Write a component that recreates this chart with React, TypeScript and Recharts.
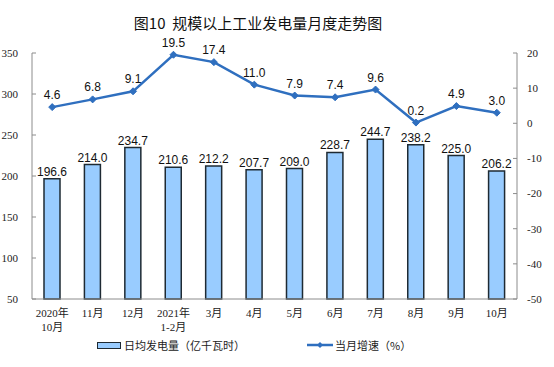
import React from "react"
import {
  ComposedChart,
  Bar,
  Line,
  XAxis,
  YAxis,
  LabelList,
} from "recharts"

const months = [
  "2020年\n10月",
  "11月",
  "12月",
  "2021年\n1-2月",
  "3月",
  "4月",
  "5月",
  "6月",
  "7月",
  "8月",
  "9月",
  "10月",
]
const dailyOutput = [196.6, 214.0, 234.7, 210.6, 212.2, 207.7, 209.0, 228.7, 244.7, 238.2, 225.0, 206.2]
const monthlyGrowth = [4.6, 6.8, 9.1, 19.5, 17.4, 11.0, 7.9, 7.4, 9.6, 0.2, 4.9, 3.0]
const leftTicks = [50, 100, 150, 200, 250, 300, 350]
const rightTicks = [-50, -40, -30, -20, -10, 0, 10, 20]
const bandTicks = [0, 1, 2, 3, 4, 5, 6, 7, 8, 9, 10, 11, 12]

const data = months.map((m, i) => ({
  name: m,
  output: dailyOutput[i],
  growth: monthlyGrowth[i],
}))

const AXIS = "#8c8c8c"
const SERIF = "'Liberation Serif', 'Noto Sans CJK SC', serif"
const CJK = "'Noto Sans CJK SC', sans-serif"
const LINE = "#2f6fbf"

function MonthTick(props: any) {
  const { x, y, payload } = props
  const lines = String(payload.value).split("\n")
  return (
    <text x={x} y={y} textAnchor="middle" fontSize={11} fill="#222" fontFamily={SERIF}>
      {lines.map((l, i) => (
        <tspan key={i} x={x} dy={i === 0 ? 10 : 14}>
          {l}
        </tspan>
      ))}
    </text>
  )
}

function Diamond(props: any) {
  const { cx, cy } = props
  if (cx == null || cy == null) return null
  const r = 3.5
  return (
    <path
      d={`M${cx},${cy - r} L${cx + r},${cy} L${cx},${cy + r} L${cx - r},${cy} Z`}
      fill={LINE}
      stroke={LINE}
    />
  )
}

const fmt = (v: any) => Number(v).toFixed(1)

export default function App() {
  return (
    <div
      style={{
        position: "absolute",
        left: 0,
        top: 0,
        width: 554,
        height: 367,
        background: "#fff",
      }}
    >
      <div
        style={{
          position: "absolute",
          left: 0,
          width: 516,
          top: 12,
          textAlign: "center",
          fontFamily: CJK,
          fontSize: 15,
          fontWeight: 400,
          color: "#111",
          whiteSpace: "pre",
        }}
      >
        {"图10  规模以上工业发电量月度走势图"}
      </div>

      <ComposedChart
        width={554}
        height={367}
        data={data}
        margin={{ top: 53, right: 0, left: 0, bottom: 28 }}
        barCategoryGap={0}
      >
        <XAxis
          xAxisId="marks"
          type="number"
          domain={[0, 12]}
          ticks={bandTicks}
          tick={false}
          tickSize={-3}
          axisLine={false}
          tickLine={{ stroke: AXIS }}
          height={0}
          allowDataOverflow
        />
        <XAxis
          xAxisId="cat"
          dataKey="name"
          interval={0}
          height={40}
          tickLine={false}
          axisLine={{ stroke: AXIS }}
          tick={<MonthTick />}
        />
        <YAxis
          yAxisId="left"
          domain={[50, 350]}
          ticks={leftTicks}
          width={32}
          tickSize={-4}
          tickMargin={18}
          axisLine={{ stroke: AXIS }}
          tickLine={{ stroke: AXIS }}
          tick={{ fontSize: 11, fill: "#222", fontFamily: SERIF }}
        />
        <YAxis
          yAxisId="right"
          orientation="right"
          domain={[-50, 20]}
          ticks={rightTicks}
          width={37}
          tickSize={-4}
          tickMargin={14}
          axisLine={{ stroke: AXIS }}
          tickLine={{ stroke: AXIS }}
          tick={{ fontSize: 11, fill: "#222", fontFamily: SERIF }}
        />
        <Bar
          xAxisId="cat"
          yAxisId="left"
          dataKey="output"
          fill="#99ccff"
          stroke="#1e2a33"
          strokeWidth={1.5}
          barSize={16}
          isAnimationActive={false}
        >
          <LabelList
            dataKey="output"
            position="top"
            offset={3}
            formatter={fmt}
            style={{ fontSize: 12, fill: "#111", fontFamily: "'Liberation Sans', Arial, sans-serif" }}
          />
        </Bar>
        <Line
          xAxisId="cat"
          yAxisId="right"
          dataKey="growth"
          stroke={LINE}
          strokeWidth={2.5}
          dot={<Diamond />}
          activeDot={false}
          isAnimationActive={false}
        >
          <LabelList
            dataKey="growth"
            position="top"
            offset={8}
            formatter={fmt}
            style={{ fontSize: 12, fill: "#111", fontFamily: "'Liberation Sans', Arial, sans-serif" }}
          />
        </Line>
      </ComposedChart>

      <div
        style={{
          position: "absolute",
          top: 337,
          left: 97,
          display: "flex",
          alignItems: "center",
          fontFamily: CJK,
          fontSize: 11,
          color: "#222",
          lineHeight: "16px",
        }}
      >
        <span
          style={{
            display: "inline-block",
            width: 22,
            height: 5,
            background: "#99ccff",
            border: "1.5px solid #1e2a33",
            marginRight: 3,
          }}
        />
        <span>日均发电量（亿千瓦时）</span>
        <svg width={26} height={10} style={{ marginLeft: 62, marginRight: 2 }}>
          <line x1={0} y1={5} x2={26} y2={5} stroke={LINE} strokeWidth={2.5} />
          <path d="M13,2 L16,5 L13,8 L10,5 Z" fill={LINE} />
        </svg>
        <span>当月增速（%）</span>
      </div>
    </div>
  )
}
